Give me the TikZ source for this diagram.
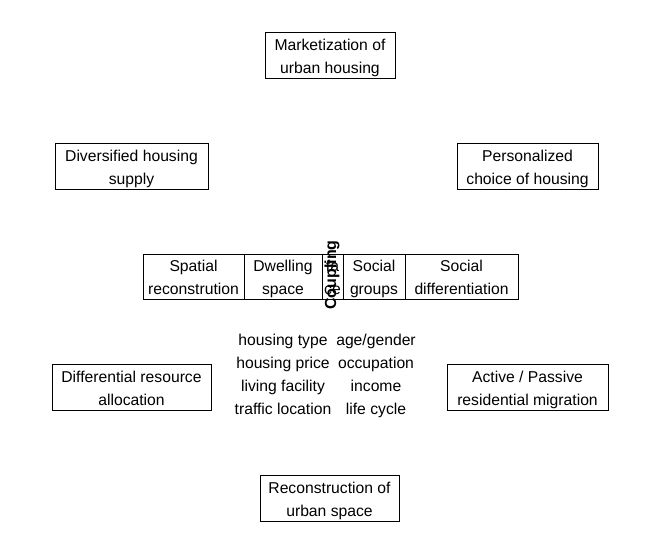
\documentclass[tikz,border=0pt]{standalone}
\usepackage{fontspec}
\setmainfont{Liberation Sans}
\begin{document}
\begin{tikzpicture}[x=1pt,y=-1pt,
  box/.style={draw=black,line width=0.9pt,rectangle,inner sep=0pt,align=center,
    font=\fontsize{15.7}{23}\selectfont,text height=40pt,text depth=4pt},
  lbl/.style={inner sep=0pt,align=center,font=\fontsize{15.7}{23}\selectfont}]
\useasboundingbox[fill=white] (0,0) rectangle (660,554);
\node[box,minimum width=130pt,minimum height=46pt] (mk) at (330,55) {Marketization of\\urban housing};
\node[box,minimum width=153pt,minimum height=46pt] (ds) at (131.5,166) {Diversified housing\\supply};
\node[box,minimum width=141pt,minimum height=46pt] (pc) at (527.5,166) {Personalized\\choice of housing};
\node[box,minimum width=101pt,minimum height=45pt] (sr) at (193.5,276.5) {Spatial\\reconstrution};
\node[box,minimum width=78pt,minimum height=45pt] (dw) at (283,276.5) {Dwelling\\space};
\node[box,minimum width=21pt,minimum height=45pt] (fc) at (332.5,276.5) {fa\\ce};
\node[box,minimum width=62pt,minimum height=45pt] (sg) at (374,276.5) {Social\\groups};
\node[box,minimum width=113pt,minimum height=45pt] (sd) at (461.5,276.5) {Social\\differentiation};
\node[lbl,rotate=90,font=\fontsize{16}{18}\selectfont\bfseries] (cp) at (332,275) {Coupling};
\node[box,minimum width=159pt,minimum height=46pt] (dr) at (131.5,387) {Differential resource\\allocation};
\node[box,minimum width=161pt,minimum height=46pt] (ap) at (527.5,387) {Active / Passive\\residential migration};
\node[box,minimum width=139pt,minimum height=46pt] (rc) at (329.5,498) {Reconstruction of\\urban space};
\node[lbl,anchor=north] (lc) at (283,334) {housing type\\housing price\\living facility\\traffic location};
\node[lbl,anchor=north] (rcol) at (376,334) {age/gender\\occupation\\income\\life cycle};
\end{tikzpicture}
\end{document}
